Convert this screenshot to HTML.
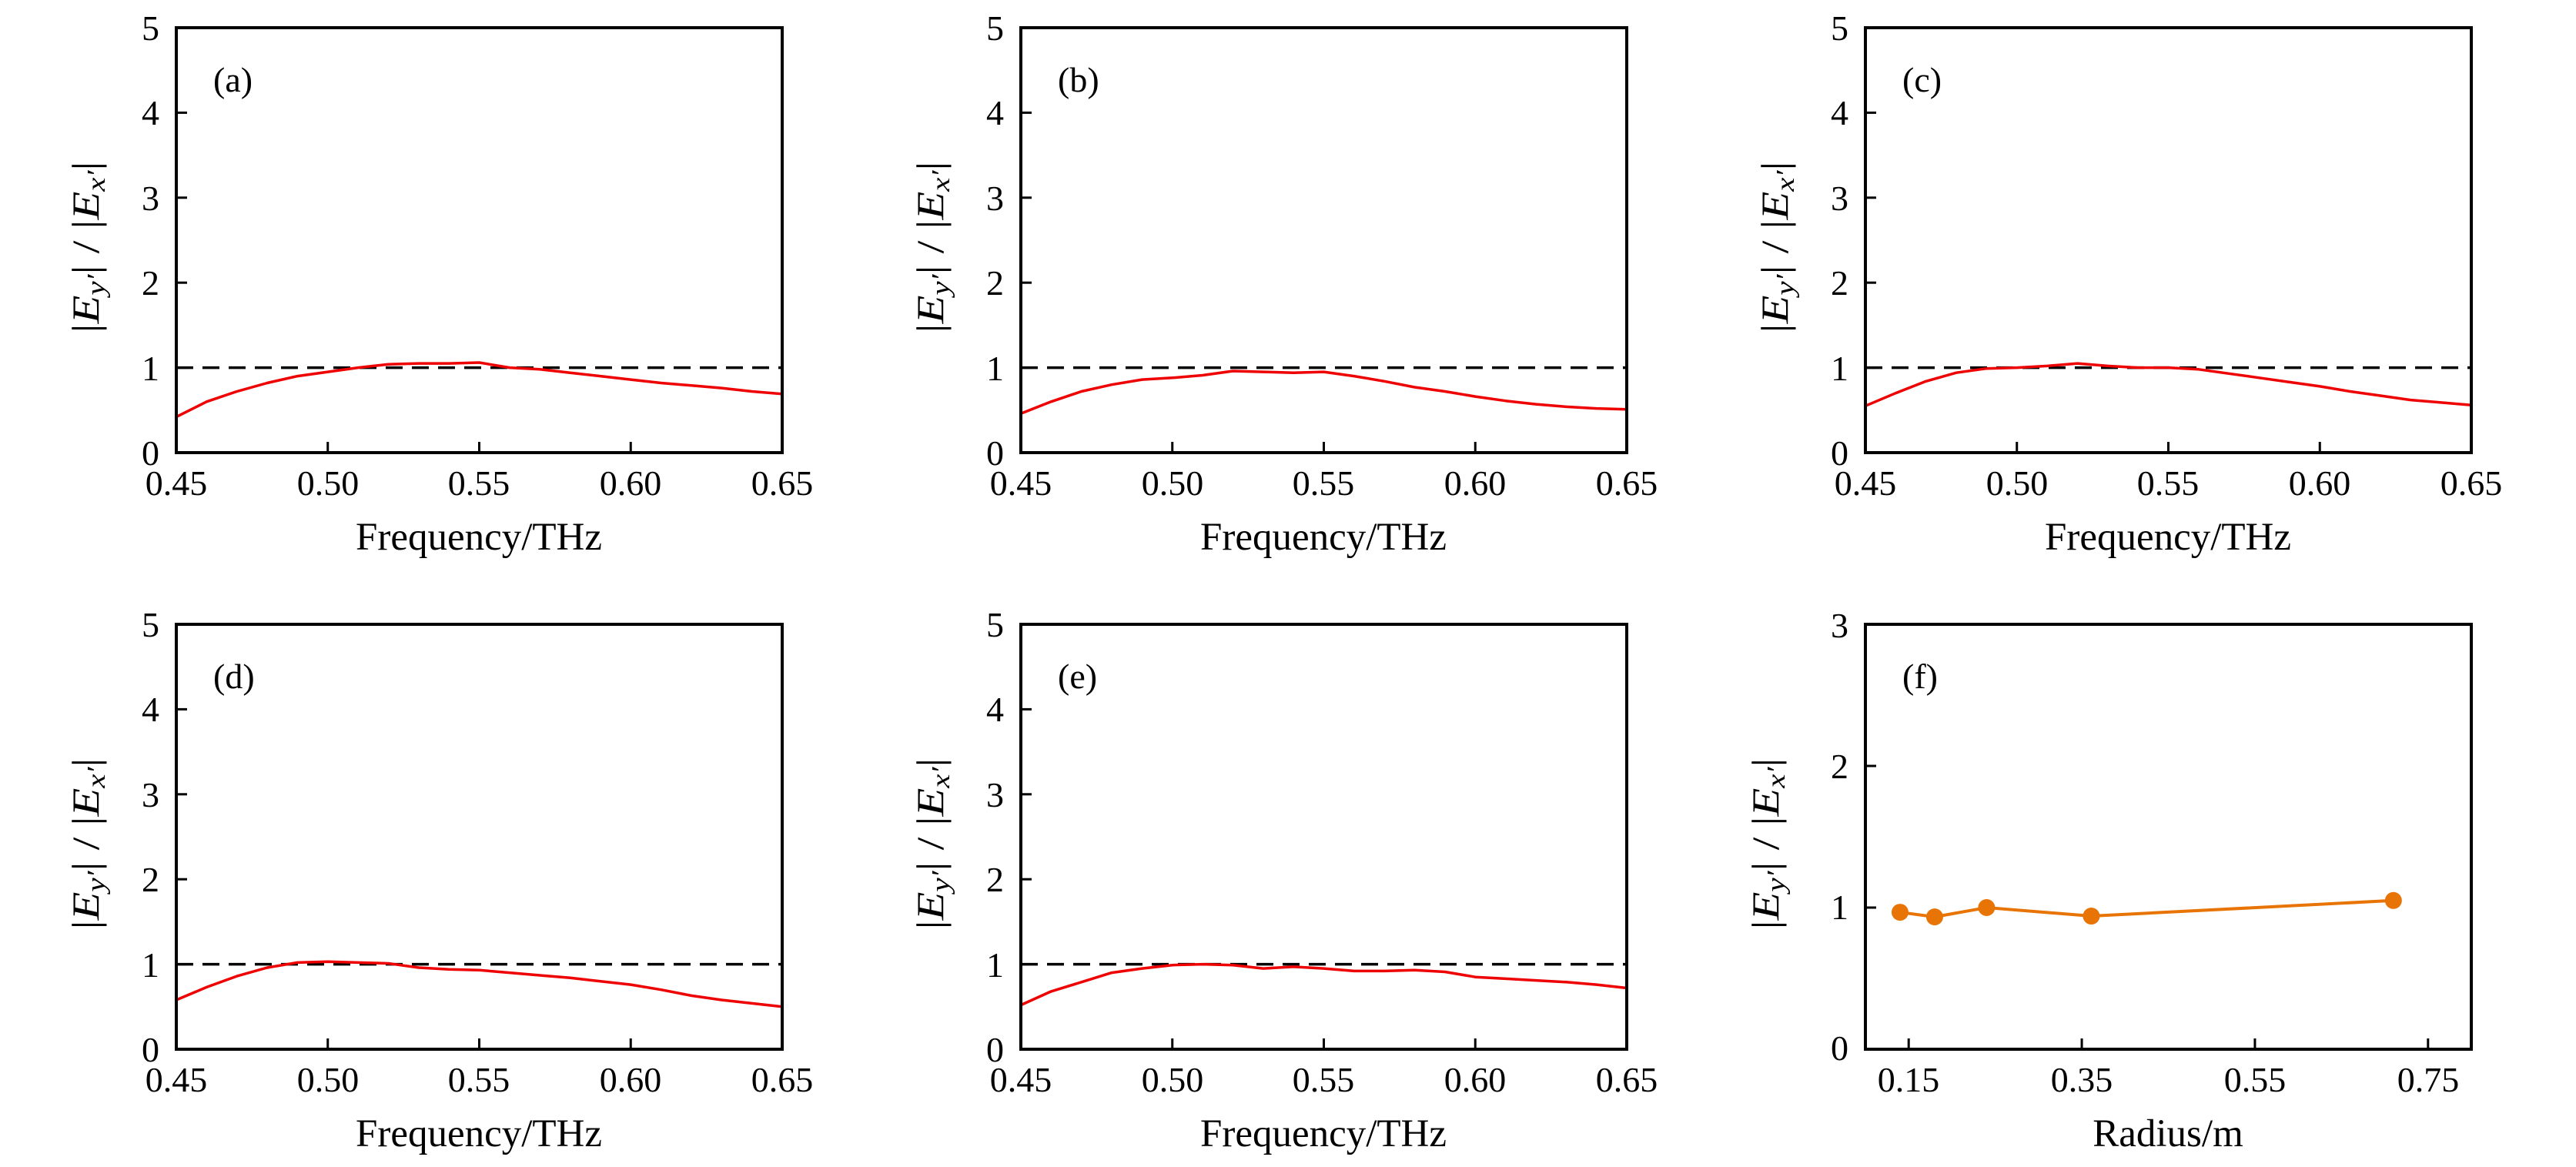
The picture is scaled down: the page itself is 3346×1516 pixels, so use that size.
<!DOCTYPE html>
<html><head><meta charset="utf-8"><style>
html,body{margin:0;padding:0;background:#fff;}
svg{display:block;}
text{font-family:"Liberation Serif",serif;fill:#000;}
</style></head><body>
<svg id="s" width="3346" height="1516" viewBox="0 0 3346 1516" xmlns="http://www.w3.org/2000/svg">
<g font-size="46">
<g text-anchor="middle">
<text x="229" y="643">0.45</text><text x="426" y="643">0.50</text><text x="622" y="643">0.55</text><text x="819" y="643">0.60</text><text x="1016" y="643">0.65</text>
<text x="1326" y="643">0.45</text><text x="1523" y="643">0.50</text><text x="1719" y="643">0.55</text><text x="1916" y="643">0.60</text><text x="2113" y="643">0.65</text>
<text x="2423" y="643">0.45</text><text x="2620" y="643">0.50</text><text x="2816" y="643">0.55</text><text x="3013" y="643">0.60</text><text x="3210" y="643">0.65</text>
<text x="229" y="1418">0.45</text><text x="426" y="1418">0.50</text><text x="622" y="1418">0.55</text><text x="819" y="1418">0.60</text><text x="1016" y="1418">0.65</text>
<text x="1326" y="1418">0.45</text><text x="1523" y="1418">0.50</text><text x="1719" y="1418">0.55</text><text x="1916" y="1418">0.60</text><text x="2113" y="1418">0.65</text>
<text x="2479" y="1418">0.15</text><text x="2704" y="1418">0.35</text><text x="2929" y="1418">0.55</text><text x="3154" y="1418">0.75</text>
<g font-size="51">
<text x="622" y="714">Frequency/THz</text><text x="1719" y="714">Frequency/THz</text><text x="2816" y="714">Frequency/THz</text>
<text x="622" y="1489">Frequency/THz</text><text x="1719" y="1489">Frequency/THz</text><text x="2816" y="1489">Radius/m</text>
</g>
</g>
<g text-anchor="end">
<text x="207" y="604">0</text><text x="207" y="494">1</text><text x="207" y="383">2</text><text x="207" y="273">3</text><text x="207" y="162">4</text><text x="207" y="52">5</text>
<text x="1304" y="604">0</text><text x="1304" y="494">1</text><text x="1304" y="383">2</text><text x="1304" y="273">3</text><text x="1304" y="162">4</text><text x="1304" y="52">5</text>
<text x="2401" y="604">0</text><text x="2401" y="494">1</text><text x="2401" y="383">2</text><text x="2401" y="273">3</text><text x="2401" y="162">4</text><text x="2401" y="52">5</text>
<text x="207" y="1379">0</text><text x="207" y="1269">1</text><text x="207" y="1158">2</text><text x="207" y="1048">3</text><text x="207" y="937">4</text><text x="207" y="827">5</text>
<text x="1304" y="1379">0</text><text x="1304" y="1269">1</text><text x="1304" y="1158">2</text><text x="1304" y="1048">3</text><text x="1304" y="937">4</text><text x="1304" y="827">5</text>
<text x="2401" y="1377">0</text><text x="2401" y="1194">1</text><text x="2401" y="1011">2</text><text x="2401" y="828">3</text>
</g>
<g>
<text x="277" y="119">(a)</text><text x="1374" y="119">(b)</text><text x="2471" y="119">(c)</text>
<text x="277" y="894">(d)</text><text x="1374" y="894">(e)</text><text x="2471" y="894">(f)</text>
</g>
</g>
<g font-size="50">
<text transform="translate(128,321) rotate(-90)" text-anchor="middle" textLength="223" lengthAdjust="spacingAndGlyphs">|<tspan font-style="italic">E</tspan><tspan font-style="italic" font-size="34" dy="8">y′</tspan><tspan dy="-8">| / |</tspan><tspan font-style="italic">E</tspan><tspan font-style="italic" font-size="34" dy="8">x′</tspan><tspan dy="-8">|</tspan></text>
<text transform="translate(1225,321) rotate(-90)" text-anchor="middle" textLength="223" lengthAdjust="spacingAndGlyphs">|<tspan font-style="italic">E</tspan><tspan font-style="italic" font-size="34" dy="8">y′</tspan><tspan dy="-8">| / |</tspan><tspan font-style="italic">E</tspan><tspan font-style="italic" font-size="34" dy="8">x′</tspan><tspan dy="-8">|</tspan></text>
<text transform="translate(2322,321) rotate(-90)" text-anchor="middle" textLength="223" lengthAdjust="spacingAndGlyphs">|<tspan font-style="italic">E</tspan><tspan font-style="italic" font-size="34" dy="8">y′</tspan><tspan dy="-8">| / |</tspan><tspan font-style="italic">E</tspan><tspan font-style="italic" font-size="34" dy="8">x′</tspan><tspan dy="-8">|</tspan></text>
<text transform="translate(128,1096) rotate(-90)" text-anchor="middle" textLength="223" lengthAdjust="spacingAndGlyphs">|<tspan font-style="italic">E</tspan><tspan font-style="italic" font-size="34" dy="8">y′</tspan><tspan dy="-8">| / |</tspan><tspan font-style="italic">E</tspan><tspan font-style="italic" font-size="34" dy="8">x′</tspan><tspan dy="-8">|</tspan></text>
<text transform="translate(1225,1096) rotate(-90)" text-anchor="middle" textLength="223" lengthAdjust="spacingAndGlyphs">|<tspan font-style="italic">E</tspan><tspan font-style="italic" font-size="34" dy="8">y′</tspan><tspan dy="-8">| / |</tspan><tspan font-style="italic">E</tspan><tspan font-style="italic" font-size="34" dy="8">x′</tspan><tspan dy="-8">|</tspan></text>
<text transform="translate(2310,1096) rotate(-90)" text-anchor="middle" textLength="223" lengthAdjust="spacingAndGlyphs">|<tspan font-style="italic">E</tspan><tspan font-style="italic" font-size="34" dy="8">y′</tspan><tspan dy="-8">| / |</tspan><tspan font-style="italic">E</tspan><tspan font-style="italic" font-size="34" dy="8">x′</tspan><tspan dy="-8">|</tspan></text>
</g>
<g id="plots"></g>
</svg>
<script>
var NS="http://www.w3.org/2000/svg",g=document.getElementById("plots");
function el(n,a){var e=document.createElementNS(NS,n);for(var k in a)e.setAttribute(k,a[k]);g.appendChild(e);return e;}
var W=787,H=552;
var data={
a:[0.42,0.6,0.72,0.82,0.9,0.95,1.0,1.04,1.05,1.05,1.06,1.0,0.98,0.94,0.9,0.86,0.82,0.79,0.76,0.72,0.69],
b:[0.46,0.6,0.72,0.8,0.86,0.88,0.91,0.96,0.95,0.94,0.95,0.9,0.84,0.77,0.72,0.66,0.61,0.57,0.54,0.52,0.51],
c:[0.55,0.7,0.84,0.94,0.99,1.0,1.02,1.05,1.02,1.0,1.0,0.98,0.93,0.88,0.83,0.78,0.72,0.67,0.62,0.59,0.56],
d:[0.58,0.73,0.86,0.96,1.02,1.03,1.02,1.01,0.96,0.94,0.93,0.9,0.87,0.84,0.8,0.76,0.7,0.63,0.58,0.54,0.5],
e:[0.52,0.68,0.79,0.9,0.95,0.99,1.0,0.99,0.95,0.97,0.95,0.92,0.92,0.93,0.91,0.85,0.83,0.81,0.79,0.76,0.72]};
var panels=[[229,36,'a'],[1326,36,'b'],[2423,36,'c'],[229,811,'d'],[1326,811,'e']];
panels.forEach(function(p){
 var x0=p[0],y0=p[1],yb=y0+H,u=H/5;
 var pts=data[p[2]].map(function(v,i){return (x0+i*W/20).toFixed(1)+","+(yb-v*u).toFixed(1);}).join(" ");
 el("line",{x1:x0,x2:x0+W,y1:yb-u,y2:yb-u,stroke:"#000","stroke-width":3.5,"stroke-dasharray":"22 12"});
 el("polyline",{points:pts,fill:"none",stroke:"#ee0000","stroke-width":3.5,"stroke-linejoin":"round"});
 for(var i=1;i<5;i++){el("line",{x1:x0,x2:x0+14,y1:yb-i*u,y2:yb-i*u,stroke:"#000","stroke-width":3});
  el("line",{x1:x0+i*W/4,x2:x0+i*W/4,y1:yb,y2:yb-14,stroke:"#000","stroke-width":3});}
 el("rect",{x:x0,y:y0,width:W,height:H,fill:"none",stroke:"#000","stroke-width":4});
});
(function(){
 var x0=2423,y0=811,yb=y0+H,u=H/3;
 function X(v){return x0+(v-0.1)/0.7*W;}
 var d=[[0.14,0.967],[0.18,0.934],[0.24,1.0],[0.361,0.94],[0.71,1.05]];
 el("polyline",{points:d.map(function(q){return X(q[0])+","+(yb-q[1]*u);}).join(" "),fill:"none",stroke:"#e87405","stroke-width":4});
 d.forEach(function(q){el("circle",{cx:X(q[0]),cy:yb-q[1]*u,r:11,fill:"#e87405"});});
 for(var i=1;i<3;i++)el("line",{x1:x0,x2:x0+14,y1:yb-i*u,y2:yb-i*u,stroke:"#000","stroke-width":3});
 [0.15,0.35,0.55,0.75].forEach(function(v){el("line",{x1:X(v),x2:X(v),y1:yb,y2:yb-14,stroke:"#000","stroke-width":3});});
 el("rect",{x:x0,y:y0,width:W,height:H,fill:"none",stroke:"#000","stroke-width":4});
})();
</script>
</body></html>
